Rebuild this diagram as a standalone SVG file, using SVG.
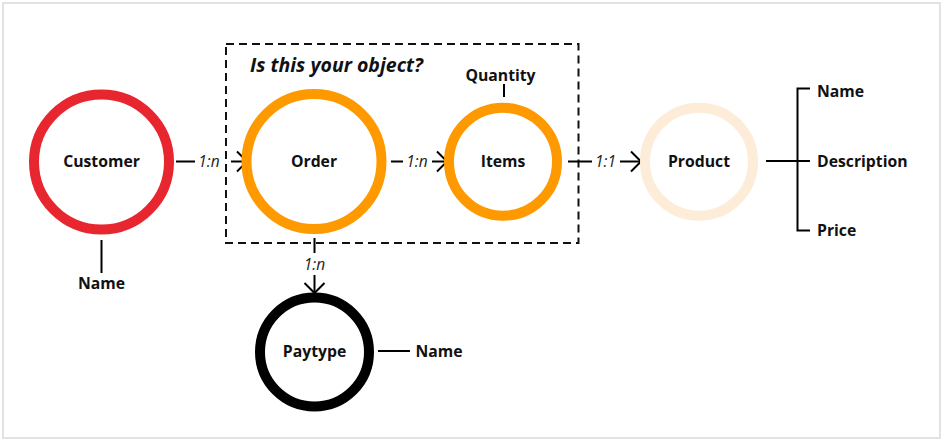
<svg xmlns="http://www.w3.org/2000/svg" width="943" height="441" viewBox="0 0 943 441">
<style>
.lbl{font-family:"Open Sans","Noto Sans","Liberation Sans",sans-serif;font-weight:700;font-size:15.75px;fill:#111;}
.mid{text-anchor:middle;}
.card{font-family:"Open Sans","Noto Sans","Liberation Sans",sans-serif;font-style:italic;font-size:15.5px;fill:#222;text-anchor:middle;}
.ln{stroke:#000;stroke-width:2;fill:none;}
.node{fill:#fff;stroke-width:10;}
</style>
<defs>
<marker id="chev" markerUnits="userSpaceOnUse" viewBox="-1 -1 13 22" refX="10" refY="10" markerWidth="13" markerHeight="22" orient="auto" overflow="visible">
<path d="M0,0 L10,10 L0,20" fill="none" stroke="#000" stroke-width="2"/>
</marker>
</defs>
<rect x="3" y="3" width="937" height="435" fill="#fff" stroke="#e2e2e2" stroke-width="2"/>
<g id="group-box">
<rect x="226" y="44" width="352.5" height="199" fill="none" stroke="#111" stroke-width="2" stroke-dasharray="8,5"/>
<text x="250" y="72" font-family="'Open Sans','Noto Sans','Liberation Sans',sans-serif" font-weight="700" font-style="italic" font-size="19.5" fill="#111">Is this your object?</text>
</g>
<g id="connectors">
<line class="ln" x1="176" y1="161.5" x2="195" y2="161.5"/>
<text class="card" x="209" y="167">1:n</text>
<line class="ln" x1="231" y1="161.5" x2="247" y2="161.5" marker-end="url(#chev)"/>
<line class="ln" x1="391" y1="161.5" x2="403" y2="161.5"/>
<text class="card" x="417" y="167">1:n</text>
<line class="ln" x1="432" y1="161.5" x2="447" y2="161.5" marker-end="url(#chev)"/>
<line class="ln" x1="568" y1="161.5" x2="592" y2="161.5"/>
<text class="card" x="605.5" y="167">1:1</text>
<line class="ln" x1="620" y1="161.5" x2="641" y2="161.5" marker-end="url(#chev)"/>
<line class="ln" x1="314.5" y1="238" x2="314.5" y2="253"/>
<text class="card" x="314.5" y="269.5">1:n</text>
<line class="ln" x1="314.5" y1="275" x2="314.5" y2="293" marker-end="url(#chev)"/>
<line class="ln" x1="101.5" y1="240" x2="101.5" y2="273"/>
<line class="ln" x1="504" y1="84" x2="504" y2="97"/>
<line class="ln" x1="766" y1="161" x2="810" y2="161" stroke-width="2.5"/>
<path class="ln" d="M810,88.5 H797.5 V230.5 H810" stroke-width="2.5"/>
<line class="ln" x1="378" y1="351" x2="410" y2="351"/>
</g>
<g id="customer">
<circle class="node" cx="101.5" cy="162" r="67.5" stroke="#e8262f"/>
<text class="lbl mid" x="101.5" y="166.5">Customer</text>
</g>
<g id="customer-name"><text class="lbl mid" x="101.5" y="288.5">Name</text></g>
<g id="order">
<circle class="node" cx="314" cy="161.5" r="67.5" stroke="#fe9a00"/>
<text class="lbl mid" x="314" y="166.5">Order</text>
</g>
<g id="items">
<circle class="node" cx="503" cy="161.7" r="54" stroke="#fe9a00"/>
<text class="lbl mid" x="503" y="166.5">Items</text>
</g>
<g id="quantity"><text class="lbl mid" x="500.5" y="80.5">Quantity</text></g>
<g id="product">
<circle class="node" cx="699" cy="161.7" r="54" stroke="#fdecd8"/>
<text class="lbl mid" x="699" y="166.5">Product</text>
</g>
<g id="product-name"><text class="lbl" x="817" y="97">Name</text></g>
<g id="product-description"><text class="lbl" x="817" y="166.5">Description</text></g>
<g id="product-price"><text class="lbl" x="817" y="236">Price</text></g>
<g id="paytype">
<circle class="node" cx="314.5" cy="352" r="54.5" stroke="#000"/>
<text class="lbl mid" x="314.5" y="356.5">Paytype</text>
</g>
<g id="paytype-name"><text class="lbl" x="415.5" y="356.5">Name</text></g>
</svg>
